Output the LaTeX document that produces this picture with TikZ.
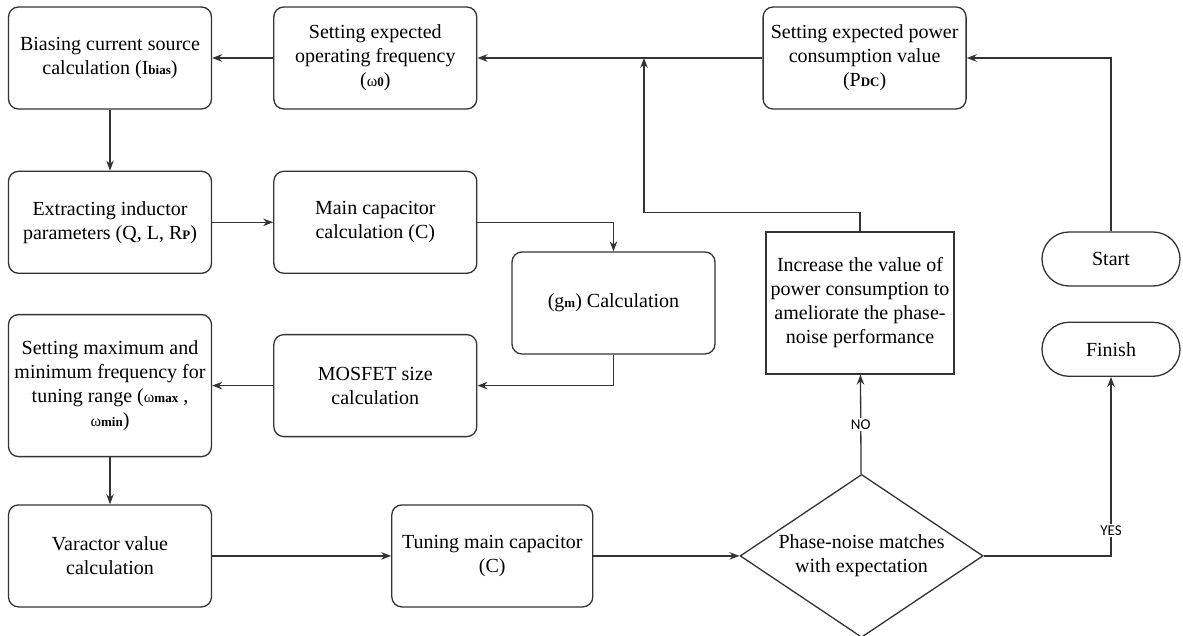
\documentclass[tikz,border=0pt]{standalone}
\usepackage{fontspec}
\setmainfont{Liberation Serif}
\newfontfamily\ynfont{Carlito}
\usepackage{tikz}
\usetikzlibrary{arrows.meta,shapes,positioning}
\usepackage{xcolor}

\definecolor{edgegray}{HTML}{333333}
\newcommand{\lowtxt}[1]{{\fontsize{13pt}{13pt}\selectfont\bfseries #1}}
\newcommand{\omg}{{\fontsize{16pt}{16pt}\selectfont ω}}

\begin{document}
\begin{tikzpicture}[->,>={Stealth[length=10pt,width=7.5pt]},align=center,x=1pt,y=-1pt,
					line width=1.3pt,draw=edgegray,
					every node/.style={font=\fontsize{20pt}{24pt}\selectfont},
					box node/.style={draw=edgegray,rounded corners=10pt,inner sep=2pt,
						minimum width=203pt,minimum height=102pt},
					plain node/.style={draw=edgegray,inner sep=2pt,
						minimum width=188pt,minimum height=142pt},
					term node/.style={draw=edgegray,rounded rectangle,inner sep=2pt,
						minimum width=142pt,minimum height=54pt},
					check node/.style={draw=edgegray,diamond,aspect=1.5,inner sep=0pt,
						minimum width=243pt,minimum height=163pt},
					yn label/.style={fill=white,inner sep=1.5pt,
						font=\ynfont\fontsize{15pt}{15pt}\selectfont}]
					
					\useasboundingbox (0,0) rectangle (1183,636);
					
					\node[term node] (1) at (1111,259) {Start};
					\node[box node] (4) at (110,58) {Biasing current source\\calculation (I\lowtxt{bias})};
					\node[box node] (3) [right=61pt of 4] {Setting expected\\operating frequency\\(\omg\lowtxt{0})};
					\node[box node] (2) [right=285pt of 3] {Setting expected power\\consumption value\\(P\lowtxt{DC})};
					\node[box node] (5) [below=61pt of 4] {Extracting inductor\\parameters (Q, L, R\lowtxt{P})};
					\node[box node] (6) [right=61pt of 5] {Main capacitor\\calculation (C)};
					\node[box node] (7) at (613.5,303) {(g\lowtxt{m}) Calculation};
					\node[box node,minimum height=142pt] (9) [below=40pt of 5] {Setting maximum and\\minimum frequency for\\tuning range (\omg\lowtxt{max} ,\\\omg\lowtxt{min})};
					\node[box node] (8) [right=61pt of 9] {MOSFET size\\calculation};
					\node[box node] (10) [below=47pt of 9] {Varactor value\\calculation};
					\node[box node,minimum width=201pt] (11) [right=179pt of 10] {Tuning main capacitor\\(C)};
					\node[check node] (12) [right=146pt of 11] {Phase-noise matches\\with expectation};
					\node[plain node] (13) at (860,303) {Increase the value of\\power consumption to\\ameliorate the phase-\\noise performance};
					\node[term node] (14) [below=35pt of 1] {Finish};
					\coordinate (j) at (644,58);
					
					\path
					(2) edge (3)
					(3) edge (4)
					(4) edge (5)
					(5) edge (6)
					(8) edge (9)
					(9) edge (10)
					(10) edge (11)
					(11) edge (12)
					(12) edge node[yn label] {NO} (13);
					\draw (1.north) |- (2.east);
					\draw (13.north) -- ++(0,-19) -| (j);
					\draw (6.east) -| (7.north);
					\draw (7.south) |- (8.east);
					\draw (12.east) -| node[yn label,pos=0.57] {YES} (14.south);
					
				\end{tikzpicture}
\end{document}
